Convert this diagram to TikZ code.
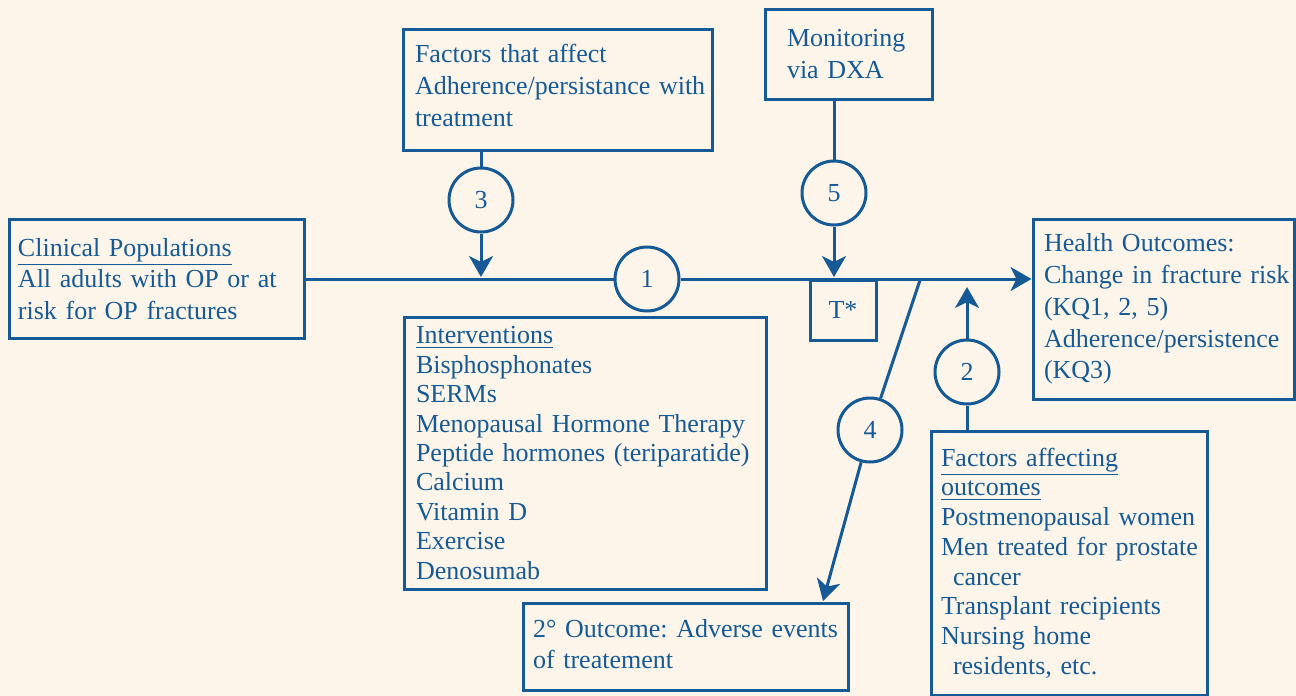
\documentclass[tikz,border=0pt]{standalone}
\usepackage{fontspec}
\setmainfont{Liberation Serif}
\usetikzlibrary{arrows.meta}
\definecolor{bgcream}{HTML}{FEF5EA}
\definecolor{oblue}{HTML}{155A96}
\frenchspacing

\begin{document}
\begin{tikzpicture}[x=0.5pt,y=-0.5pt,color=oblue,line width=1.5pt,
		box/.style={draw,rectangle,align=left,inner ysep=0pt,font=\fontsize{13}{15.8}\selectfont},
		num/.style={draw,circle,minimum size=32pt,inner sep=0pt,fill=bgcream,font=\fontsize{13}{15}\selectfont},
		arr/.style={-{Stealth[length=10.5pt,width=12pt,inset=3pt]}}]
		\fill[bgcream] (0,0) rectangle (1296,696);
		\useasboundingbox (0,0) rectangle (1296,696);

		% boxes
		\node[box,text width=138.5pt,inner xsep=4.5pt,minimum height=59.5pt] (clin) at (156.5,279)
			{\underline{Clinical Populations}\\\mbox{All adults with OP or at}\\risk for OP fractures};
		\node[box,text width=142.5pt,inner xsep=6pt,minimum height=60.5pt,font=\fontsize{13}{16}\selectfont] (adhere) at (557.5,89.5)
			{Factors that affect\\\mbox{Adherence/persistance with}\\treatment\rule[-4pt]{0pt}{4pt}};
		\node[box,text width=61.5pt,inner xsep=11pt,minimum height=45pt,font=\fontsize{13}{16}\selectfont] (monitor) at (848.5,54)
			{\mbox{Monitoring}\\\mbox{via DXA}};
		\node[box,text width=169pt,inner xsep=6pt,minimum height=136pt,font=\fontsize{13}{14.7}\selectfont] (interv) at (585,453)
			{\underline{Interventions}\\Bisphosphonates\\SERMs\\\mbox{Menopausal Hormone Therapy}\\\mbox{Peptide hormones (teriparatide)}\\Calcium\\Vitamin D\\Exercise\\Denosumab};
		\node[box,align=center,minimum width=33pt,minimum height=30pt] (tstar) at (843,310) {T*};
		\node[box,text width=119.5pt,inner xsep=5.5pt,minimum height=90pt,font=\fontsize{13}{15.9}\selectfont] (health) at (1163.5,309)
			{Health Outcomes:\\\mbox{Change in fracture risk}\\(KQ1, 2, 5)\\\mbox{Adherence/persistence}\\(KQ3)};
		\node[box,text width=152.5pt,inner xsep=5pt,minimum height=43.5pt,font=\fontsize{13}{15.5}\selectfont] (outtwo) at (685.5,646.5)
			{\mbox{2° Outcome: Adverse events}\\of treatement\rule[-3pt]{0pt}{3pt}};
		\node[box,text width=128pt,inner xsep=5pt,minimum height=132pt,font=\fontsize{13}{14.85}\selectfont] (factors) at (1069,563)
			{\underline{Factors affecting}\\\underline{outcomes}\\\mbox{Postmenopausal women}\\\mbox{Men treated for prostate}\\\hspace*{6pt}cancer\\\mbox{Transplant recipients}\\Nursing home\\\hspace*{6pt}residents, etc.};

		% numbered circles
		\foreach \n/\x/\y in {1/647/279,2/967/372,3/481/200,4/870/430,5/834/193}{
			\node[num] (c\n) at (\x,\y) {\n};
		}

		\coordinate (j3) at (481,277);
		\coordinate (j5) at (834,277);
		\coordinate (j2) at (967,287);
		\coordinate (j4) at (920,280);
		\coordinate (t4) at (823,601);

		% connectors
		\draw (clin) -- (c1);
		\draw[arr] (c1) -- (c1 -| health.west);
		\draw (c3 |- adhere.south) -- (c3);
		\draw[arr] (c3) -- (j3);
		\draw (c5 |- monitor.south) -- (c5);
		\draw[arr] (c5) -- (j5);
		\draw (c2 |- factors.north) -- (c2);
		\draw[arr] (c2) -- (j2);
		\draw (j4) -- (c4);
		\draw[arr] (c4) -- (t4);
	\end{tikzpicture}
\end{document}
